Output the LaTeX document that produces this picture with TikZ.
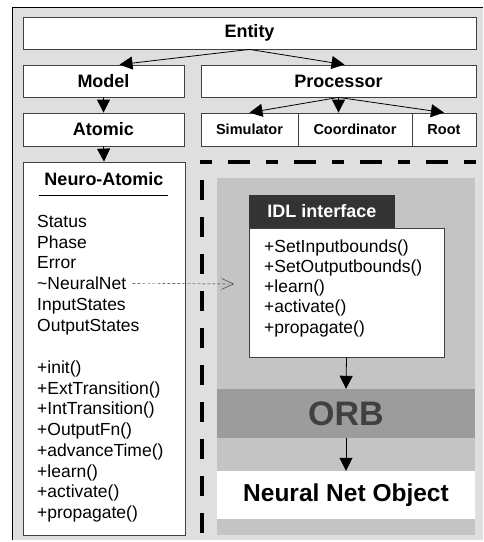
\documentclass[tikz,border=0pt]{standalone}
\usepackage{fontspec}
\setmainfont{Liberation Sans}
\usetikzlibrary{arrows.meta}
\definecolor{panel}{HTML}{DFDFDF}
\definecolor{orbzone}{HTML}{C4C4C4}
\definecolor{orbband}{HTML}{9C9C9C}
\definecolor{idlhead}{HTML}{333333}
\tikzset{
  box/.style={draw=black!75, fill=white, line width=0.8pt, inner sep=0pt},
  head/.style={box, font=\fontsize{18}{20}\selectfont\bfseries},
  small/.style={box, font=\fontsize{14.5}{17}\selectfont\bfseries, minimum height=33pt},
  member/.style={anchor=base west, inner sep=0pt, font=\fontsize{17.5}{20}\selectfont},
  tri/.style={-{Triangle[length=13pt,width=13pt]}, line width=0.8pt},
  bigdash/.style={line width=4pt},
}
\begin{document}
\begin{tikzpicture}[x=1pt,y=-1pt]
\useasboundingbox (0,0) rectangle (483,542);
\fill[panel] (12,7) rectangle (483,540);
\draw[line width=1pt] (483,7) -- (12,7) -- (12,540);

% class hierarchy
\node[head, minimum width=453pt, minimum height=32pt] (ent) at (249.5,33) {Entity};
\node[head, minimum width=161pt, minimum height=32pt] (mod) at (103.5,81) {Model};
\node[head, minimum width=275pt, minimum height=32pt] (proc) at (338.5,81) {Processor};
\node[head, minimum width=161pt, minimum height=33pt] (atom) at (103.5,129.5) {Atomic};
\node[small, minimum width=97pt] (sim) at (249.5,129.5) {Simulator};
\node[small, minimum width=114pt] (coord) at (355,129.5) {Coordinator};
\node[small, minimum width=64pt] (root) at (444,129.5) {Root};
\draw [tri] (ent.south) -- ([xshift=16pt]mod.north);
\draw [tri] (ent.south) -- ([xshift=6pt]proc.north);
\draw [tri] (proc.south) -- (sim.north);
\draw [tri] (proc.south) -- (proc.south |- coord.north);
\draw [tri] (proc.south) -- (root.north);
\draw [tri] (mod.south) -- (atom.north);

% neuro-atomic class
\node[box, minimum width=162pt, minimum height=373pt] (neuro) at (104,348.5) {};
\draw [tri] (atom.south) -- (neuro.north);
\node[anchor=base, inner sep=0pt, font=\fontsize{18}{20}\selectfont\bfseries] (natitle) at (104,185) {Neuro-Atomic};
\draw[line width=0.8pt] (39,195) -- (168,195);
\foreach \t [count=\i] in {Status,Phase,Error,\textasciitilde NeuralNet,InputStates,OutputStates}
  \node[member] (att\i) at (37,206.8+20.7*\i) {\t};
\foreach \t [count=\i] in {+init(),+ExtTransition(),+IntTransition(),+OutputFn(),+advanceTime(),+learn(),+activate(),+propagate()}
  \node[member] (meth\i) at (37,352.8+20.7*\i) {\t};

% remote side
\draw[bigdash, dash pattern=on 12pt off 16pt on 22pt off 16pt, dash phase=0pt] (200,162) -- (483,162);
\draw[bigdash, dash pattern=on 20pt off 17pt] (202,533) -- (202,172);
\fill[orbzone] (217,178) rectangle (475,535);
\node[fill=idlhead, text=white, inner sep=0pt, minimum width=146pt, minimum height=33pt,
  font=\fontsize{18}{20}\selectfont\bfseries] (idlhd) at (322,211.5) {IDL interface};
\node[box, minimum width=195pt, minimum height=129pt] (idl) at (346.5,292.5) {};
\foreach \t [count=\i] in {+SetInputbounds(),+SetOutputbounds(),+learn(),+activate(),+propagate()}
  \node[member] (op\i) at (264,231.7+20.3*\i) {\t};
\node[fill=orbband, text=black!75, inner sep=0pt, minimum width=258pt, minimum height=49pt,
  font=\fontsize{34}{36}\selectfont\bfseries] (orb) at (346,413.5) {ORB};
\node[fill=white, inner sep=0pt, minimum width=258pt, minimum height=48pt,
  font=\fontsize{24.5}{28}\selectfont\bfseries] (nno) at (346,495) {Neural Net Object};
\draw [tri] (idl.south) -- (orb.north);
\draw [tri] (orb.south) -- (nno.north);

% reference to the remote net
\coordinate (nnin) at (234,284);
\draw [black!85, dash pattern=on 3pt off 2pt, shorten <=6pt, -{Straight Barb[length=12pt,width=11pt]}] (att4.east) -- (nnin);
\end{tikzpicture}
\end{document}
